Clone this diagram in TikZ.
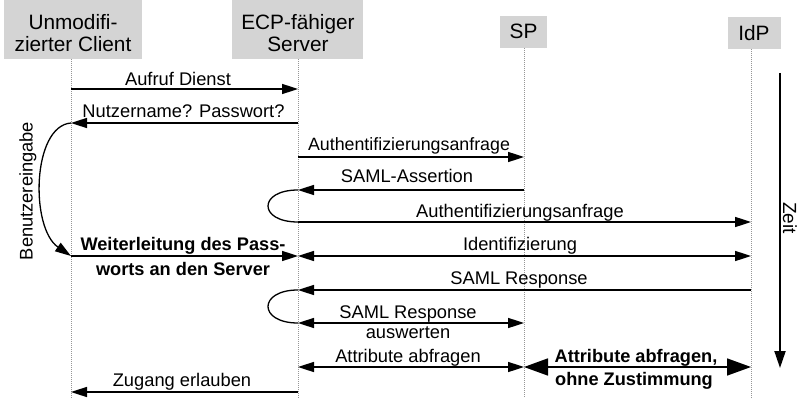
\documentclass[tikz,border=0pt]{standalone}
\usepackage{fontspec}
\setmainfont{Liberation Sans}
\usetikzlibrary{arrows.meta}
\definecolor{hdrgray}{RGB}{212,212,212}
\definecolor{lifegray}{RGB}{150,150,150}
\begin{document}
\begin{tikzpicture}[x=1pt,y=-1pt,
  hdrbox/.style={fill=hdrgray,draw=none,inner sep=0pt},
  hdrtxt/.style={font=\fontsize{20.8}{24}\selectfont,anchor=base,inner sep=0pt},
  lbl/.style={font=\fontsize{18.3}{22}\selectfont,anchor=base,inner sep=0pt},
  blbl/.style={font=\fontsize{18.2}{22}\selectfont\bfseries,anchor=base,inner sep=0pt},
  lifeline/.style={draw=lifegray,line width=0.8pt,dash pattern=on 1pt off 1pt},
  msg/.style={line width=1.6pt,-{Triangle[length=16pt,width=10pt]}},
  dmsg/.style={line width=1.6pt,{Triangle[length=16pt,width=10pt]}-{Triangle[length=16pt,width=10pt]}},
  bigmsg/.style={line width=1.6pt,{Triangle[length=24pt,width=17pt]}-{Triangle[length=24pt,width=17pt]}},
  loopline/.style={line width=1.3pt},
  timearrow/.style={line width=2pt,-{Triangle[length=17pt,width=11pt]}}
]
\useasboundingbox (0,0) rectangle (800,398);

% header boxes
\node[hdrbox,minimum width=138pt,minimum height=59pt] (clientbox) at (73,29.5) {};
\node[hdrbox,minimum width=131pt,minimum height=59pt] (serverbox) at (297.5,29.5) {};
\node[hdrbox,minimum width=47pt,minimum height=32pt] (spbox) at (523.5,32) {};
\node[hdrbox,minimum width=53pt,minimum height=32pt] (idpbox) at (754.5,33) {};
\node[hdrtxt] (ct1) at (73,30) {Unmodifi-};
\node[hdrtxt] (ct2) at (73,52) {zierter Client};
\node[hdrtxt] (st1) at (298,30) {ECP-fähiger};
\node[hdrtxt] (st2) at (298,52) {Server};
\node[hdrtxt] (pt1) at (523.5,39) {SP};
\node[hdrtxt] (it1) at (754,41) {IdP};

% lifelines
\coordinate (C) at (71,59);
\coordinate (S) at (298,59);
\coordinate (P) at (524,48);
\coordinate (I) at (751,49);
\coordinate (bot) at (0,398);
\draw[lifeline] (C) -- (C |- bot);
\draw[lifeline] (S) -- (S |- bot);
\draw[lifeline] (P) -- (P |- bot);
\draw[lifeline] (I) -- (I |- bot);

% rows
\coordinate (r1) at (0,89);
\coordinate (r2) at (0,123);
\coordinate (r3) at (0,157);
\coordinate (r4) at (0,190);
\coordinate (r5) at (0,222);
\coordinate (r6) at (0,256);
\coordinate (r7) at (0,290);
\coordinate (r8) at (0,323);
\coordinate (r9) at (0,367);
\coordinate (r10) at (0,392);

% messages
\draw[msg] (C |- r1) -- (S |- r1);
\node[lbl] (l1) at (178,86) {Aufruf Dienst};

\draw[msg] (S |- r2) -- (C |- r2);
\node[lbl] (l2) at (183.5,118) {Nutzername? Passwort?};

\draw[line width=1.3pt,-{Triangle[length=16pt,width=10pt]}] (C |- r2) .. controls (32,126) and (30,228) .. (C |- r6);
\node[lbl,anchor=center,rotate=90] (l3) at (28,191) {Benutzereingabe};

\draw[msg] (S |- r3) -- (P |- r3);
\node[lbl,font=\fontsize{17.8}{22}\selectfont] (l4) at (409,151) {Authentifizierungsanfrage};

\draw[msg] (P |- r4) -- (S |- r4);
\node[lbl] (l5) at (407,183) {SAML-Assertion};

\draw[loopline] (S |- r4) .. controls +(-40,0) and +(-40,0) .. (S |- r5);

\draw[msg] (S |- r5) -- (I |- r5);
\node[lbl] (l6) at (520,217) {Authentifizierungsanfrage};

\draw[dmsg] (S |- r6) -- (I |- r6);
\node[lbl] (l7) at (520,250) {Identifizierung};

\draw[msg] (C |- r6) -- (S |- r6);
\node[blbl] (l8a) at (183,250) {Weiterleitung des Pass-};
\node[blbl] (l8b) at (183,275) {worts an den Server};

\draw[msg] (I |- r7) -- (S |- r7);
\node[lbl] (l9) at (519,284) {SAML Response};

\draw[loopline] (S |- r7) .. controls +(-40,0) and +(-40,0) .. (S |- r8);

\draw[dmsg] (S |- r8) -- (P |- r8);
\node[lbl] (l10a) at (408,318) {SAML Response};
\node[lbl] (l10b) at (408,338) {auswerten};

\draw[dmsg] (S |- r9) -- (P |- r9);
\node[lbl] (l11) at (408,362) {Attribute abfragen};

\draw[bigmsg] (P |- r9) -- (I |- r9);
\node[blbl] (l12a) at (636,362) {Attribute abfragen,};
\node[blbl] (l12b) at (634,385) {ohne Zustimmung};

\draw[msg] (S |- r10) -- (C |- r10);
\node[lbl] (l13) at (182,386) {Zugang erlauben};

% time axis
\coordinate (t0) at (780,73);
\coordinate (t1) at (780,368);
\draw[timearrow] (t0) -- (t1);
\node[lbl,anchor=center,rotate=-90,font=\fontsize{19}{22}\selectfont] (zeit) at (790,218) {Zeit};
\end{tikzpicture}
\end{document}
